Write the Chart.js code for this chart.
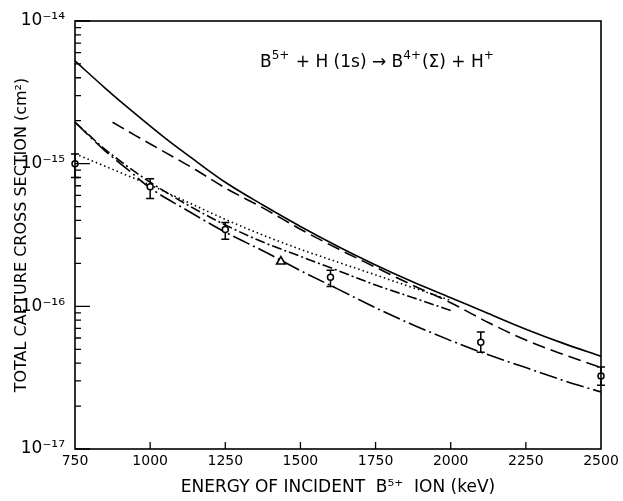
<!DOCTYPE html>
<html>
<head>
<meta charset="utf-8">
<script src="https://cdn.jsdelivr.net/npm/chart.js@4/dist/chart.umd.min.js"></script>
<style>
  html, body { margin: 0; padding: 0; background: #fff; }
  #wrap { width: 623px; height: 501px; position: relative; }
</style>
</head>
<body>
<div id="wrap"><canvas id="captureChart"></canvas></div>
<script>
const fontFamily = "'DejaVu Sans', sans-serif";

const xTitle = "ENERGY OF INCIDENT  B\u2075\u207A  ION (keV)";
const yTitle = "TOTAL CAPTURE CROSS SECTION (cm\u00B2)";
// reaction label pieces: [text, superscript?]
const reaction = [["B", false], ["5+", true], [" + H (1s) \u2192 B", false], ["4+", true], ["(\u03A3) + H", false], ["+", true]];

const xTicks = [750, 1000, 1250, 1500, 1750, 2000, 2250, 2500];
const yDecades = [1e-17, 1e-16, 1e-15, 1e-14];
const yDecadeLabels = ["10\u207B\u00B9\u2077", "10\u207B\u00B9\u2076", "10\u207B\u00B9\u2075", "10\u207B\u00B9\u2074"];
const yMinor = [2, 3, 4, 5, 6, 7, 8, 9];

// solid curve
const solidE = [750, 850, 950, 1050, 1150, 1250, 1375, 1500, 1625, 1750, 1875, 2000, 2125, 2250, 2375, 2500];
const solidV = [5.25e-15, 3.39e-15, 2.24e-15, 1.51e-15, 1.05e-15, 7.41e-16, 5.13e-16, 3.63e-16, 2.63e-16, 1.95e-16, 1.48e-16, 1.15e-16, 8.91e-17, 6.92e-17, 5.5e-17, 4.47e-17];

// long dashed curve
const dashE = [875, 950, 1050, 1150, 1250, 1375, 1500, 1625, 1750, 1875, 2000, 2125, 2250, 2375, 2500];
const dashV = [1.95e-15, 1.58e-15, 1.2e-15, 9.1e-16, 6.76e-16, 4.9e-16, 3.47e-16, 2.53e-16, 1.88e-16, 1.4e-16, 1.06e-16, 7.7e-17, 5.8e-17, 4.6e-17, 3.72e-17];

// dotted curve
const dotE = [750, 875, 1000, 1125, 1250, 1375, 1500, 1625, 1750, 1875, 2000];
const dotV = [1.175e-15, 9.12e-16, 7.08e-16, 5.37e-16, 4.07e-16, 3.16e-16, 2.51e-16, 2.04e-16, 1.66e-16, 1.35e-16, 1.1e-16];

// short dash-dot curve (stops at 2000 keV)
const dashDotE = [750, 850, 925, 1000, 1125, 1250, 1375, 1500, 1625, 1750, 1875, 2000];
const dashDotV = [1.95e-15, 1.26e-15, 9.55e-16, 7.41e-16, 5.13e-16, 3.72e-16, 2.82e-16, 2.24e-16, 1.78e-16, 1.41e-16, 1.15e-16, 9.33e-17];

// long dash-dot curve
const longDashDotE = [750, 850, 925, 1000, 1125, 1250, 1375, 1500, 1625, 1750, 1875, 2000, 2125, 2250, 2375, 2500];
const longDashDotV = [1.95e-15, 1.23e-15, 9.12e-16, 6.76e-16, 4.68e-16, 3.31e-16, 2.45e-16, 1.78e-16, 1.32e-16, 9.77e-17, 7.41e-17, 5.75e-17, 4.57e-17, 3.72e-17, 3.02e-17, 2.51e-17];

// measured points with error bars
const expE = [750, 1000, 1250, 1600, 2100, 2500];
const expV = [1.0e-15, 6.9e-16, 3.45e-16, 1.6e-16, 5.6e-17, 3.25e-17];
const expHi = [1.17e-15, 7.85e-16, 3.87e-16, 1.79e-16, 6.6e-17, 3.75e-17];
const expLo = [8.0e-16, 5.7e-16, 2.95e-16, 1.38e-16, 4.77e-17, 2.8e-17];

// triangle point
const triE = [1435];
const triV = [2.06e-16];

const pts = (xs, ys) => xs.map((x, i) => ({ x, y: ys[i] }));

function curve(xs, ys, dash) {
  return {
    type: "line",
    data: pts(xs, ys),
    borderColor: "#000",
    borderWidth: 1.6,
    borderDash: dash,
    pointRadius: 0,
    cubicInterpolationMode: "monotone",
    fill: false,
    clip: false
  };
}

const isDecade = (v) => Math.abs(Math.log10(v) - Math.round(Math.log10(v))) < 1e-6;

const frame = {
  id: "frame",
  beforeDatasetsDraw(chart) {
    const { ctx, scales: { x, y } } = chart;
    ctx.save();
    ctx.strokeStyle = "#000";
    ctx.lineWidth = 1.5;
    expE.forEach((e, i) => {
      const px = x.getPixelForValue(e);
      const top = y.getPixelForValue(expHi[i]);
      const bot = y.getPixelForValue(expLo[i]);
      ctx.beginPath();
      ctx.moveTo(px, top); ctx.lineTo(px, bot);
      ctx.moveTo(px - 4, top); ctx.lineTo(px + 4, top);
      ctx.moveTo(px - 4, bot); ctx.lineTo(px + 4, bot);
      ctx.stroke();
    });
    ctx.restore();
  },
  afterDraw(chart) {
    const { ctx, chartArea: a, scales: { x, y } } = chart;
    ctx.save();
    ctx.strokeStyle = "#000";
    ctx.lineWidth = 1.6;
    ctx.strokeRect(a.left, a.top, a.right - a.left, a.bottom - a.top);
    ctx.lineWidth = 1.3;
    ctx.beginPath();
    xTicks.slice(1, -1).forEach((v) => {
      const px = x.getPixelForValue(v);
      ctx.moveTo(px, a.bottom); ctx.lineTo(px, a.bottom - 7);
    });
    y.ticks.forEach((t) => {
      const py = y.getPixelForValue(t.value);
      const len = isDecade(t.value) ? 15 : 6;
      ctx.moveTo(a.left, py); ctx.lineTo(a.left + len, py);
    });
    ctx.stroke();
    // reaction label
    ctx.fillStyle = "#000";
    ctx.textBaseline = "alphabetic";
    let cx = 260;
    reaction.forEach(([txt, sup]) => {
      ctx.font = (sup ? "12px " : "17px ") + fontFamily;
      ctx.fillText(txt, cx, sup ? 59 : 67);
      cx += ctx.measureText(txt).width + (sup ? 1 : 0);
    });
    ctx.restore();
  }
};

new Chart(document.getElementById("captureChart"), {
  data: {
    datasets: [
      {
        type: "scatter",
        data: pts(expE, expV),
        pointStyle: "circle",
        pointRadius: 3,
        borderWidth: 1.5,
        borderColor: "#000",
        backgroundColor: "#fff",
        clip: false
      },
      {
        type: "scatter",
        data: pts(triE, triV),
        pointStyle: "triangle",
        pointRadius: 5,
        borderWidth: 1.6,
        borderColor: "#000",
        backgroundColor: "#fff",
        clip: false
      },
      curve(solidE, solidV, []),
      curve(dashE, dashV, [13, 6]),
      curve(dotE, dotV, [1.5, 3]),
      curve(dashDotE, dashDotV, [10, 3, 2, 3]),
      curve(longDashDotE, longDashDotV, [18, 4, 2, 4])
    ]
  },
  options: {
    responsive: true,
    maintainAspectRatio: false,
    animation: false,
    layout: { padding: { top: 21, right: 22, left: 0, bottom: 0 } },
    plugins: { legend: { display: false }, tooltip: { enabled: false } },
    scales: {
      x: {
        type: "linear",
        min: 750,
        max: 2500,
        afterBuildTicks: (s) => { s.ticks = xTicks.map((v) => ({ value: v })); },
        afterFit: (s) => { s.height = 52; },
        grid: { display: false },
        border: { display: false },
        ticks: { color: "#000", font: { family: fontFamily, size: 14 }, padding: -4, maxRotation: 0, autoSkip: false, callback: (v) => String(v) },
        title: { display: true, text: xTitle, color: "#000", font: { family: fontFamily, size: 17 }, padding: { top: 0, bottom: 3 } }
      },
      y: {
        type: "logarithmic",
        min: 1e-17,
        max: 1e-14,
        afterBuildTicks: (s) => {
          const ticks = [];
          yDecades.forEach((d, i) => {
            ticks.push({ value: d });
            if (i < yDecades.length - 1) yMinor.forEach((m) => ticks.push({ value: m * d }));
          });
          s.ticks = ticks;
        },
        afterFit: (s) => { s.width = 75; },
        grid: { display: false },
        border: { display: false },
        ticks: {
          color: "#000",
          font: { family: fontFamily, size: 17 },
          padding: 2,
          autoSkip: false,
          callback: (v) => {
            const i = yDecades.findIndex((d) => Math.abs(Math.log10(d) - Math.log10(v)) < 1e-6);
            return i >= 0 ? yDecadeLabels[i] : "";
          }
        },
        title: { display: true, text: yTitle, color: "#000", font: { family: fontFamily, size: 16 }, padding: { top: 12, bottom: 0 } }
      }
    }
  },
  plugins: [frame]
});
</script>
</body>
</html>
